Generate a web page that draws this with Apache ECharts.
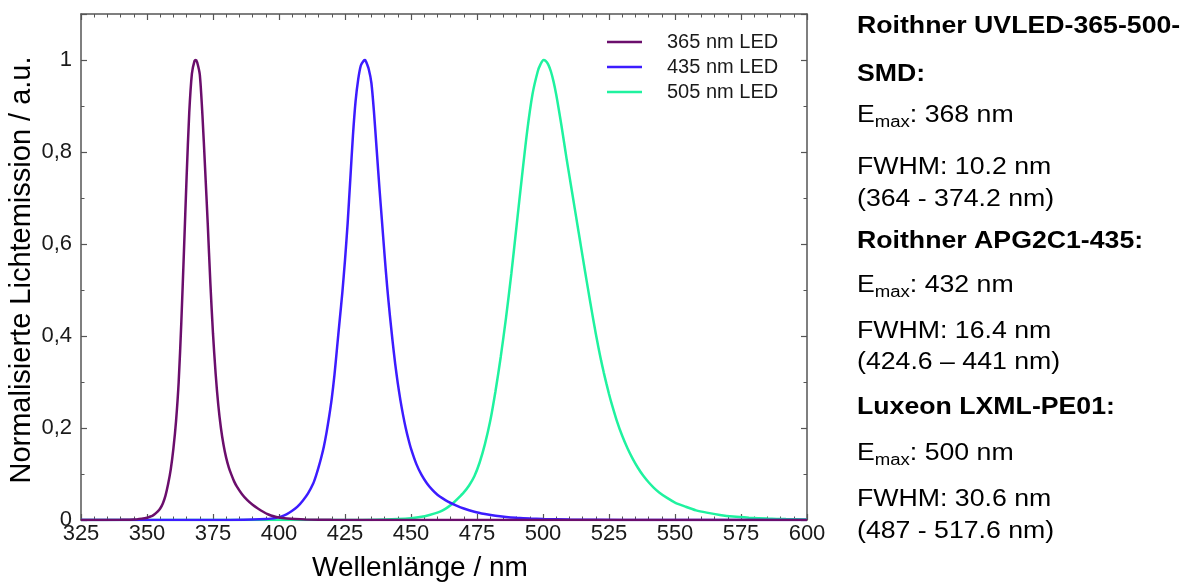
<!DOCTYPE html>
<html>
<head>
<meta charset="utf-8">
<script src="https://cdn.jsdelivr.net/npm/echarts@6/dist/echarts.min.js"></script>
<style>
html,body{margin:0;padding:0;background:#fff;}
#chart{width:1187px;height:585px;}
</style>
</head>
<body>
<div id="chart"></div>
<script>
// ---- Data ----
const seriesNames = ['365 nm LED', '435 nm LED', '505 nm LED'];

const wl365 = [325, 340, 345, 348, 350, 351, 352, 353, 354, 355, 356, 357, 358, 359, 360, 361, 362, 363, 364, 365, 366, 367, 368, 368.5, 369, 370, 371, 372, 373, 374, 375, 376, 377, 378, 379, 380, 381, 382, 383, 384, 386, 388, 390, 392, 394, 396, 398, 400, 403, 406, 410, 420, 440, 600];
const em365 = [0, 0.0005, 0.001, 0.003, 0.005, 0.007, 0.009, 0.013, 0.018, 0.025, 0.036, 0.053, 0.078, 0.11, 0.155, 0.215, 0.30, 0.43, 0.585, 0.745, 0.885, 0.97, 0.998, 1.0, 0.995, 0.968, 0.88, 0.765, 0.645, 0.515, 0.405, 0.318, 0.25, 0.2, 0.163, 0.135, 0.114, 0.098, 0.084, 0.073, 0.056, 0.043, 0.033, 0.025, 0.018, 0.012, 0.008, 0.0055, 0.0035, 0.0022, 0.0012, 0.0004, 0, 0];

const wl435 = [325, 380, 390, 395, 397, 399, 401, 403, 405, 407, 409, 411, 413, 414, 415, 416, 417, 418, 419, 420, 421, 422, 423, 424, 425, 426, 427, 428, 429, 430, 431, 432, 432.6, 433, 434, 435, 436, 437, 438, 439, 440, 441, 442, 443, 444, 445, 446, 447, 448, 449, 450, 452, 454, 456, 458, 460, 462, 464, 467, 470, 474, 478, 482, 486, 490, 495, 500, 510, 530, 560, 600];
const em435 = [0, 0, 0.001, 0.002, 0.003, 0.005, 0.008, 0.013, 0.02, 0.029, 0.042, 0.058, 0.08, 0.096, 0.115, 0.136, 0.16, 0.19, 0.225, 0.265, 0.315, 0.375, 0.435, 0.495, 0.565, 0.645, 0.74, 0.835, 0.91, 0.958, 0.988, 0.998, 1.0, 0.996, 0.98, 0.95, 0.885, 0.805, 0.725, 0.65, 0.575, 0.505, 0.445, 0.39, 0.34, 0.297, 0.26, 0.228, 0.2, 0.176, 0.155, 0.122, 0.098, 0.08, 0.066, 0.055, 0.047, 0.04, 0.032, 0.025, 0.018, 0.013, 0.009, 0.0065, 0.0048, 0.0033, 0.0023, 0.001, 0.0002, 0, 0];

const wl505 = [325, 430, 440, 445, 450, 454, 457, 460, 462, 464, 466, 468, 470, 472, 474, 476, 478, 480, 482, 484, 486, 488, 490, 492, 494, 496, 498, 499, 500.2, 501, 502, 503, 504, 505, 506, 507, 508, 509, 510, 511, 512, 513, 514, 515, 516, 517, 518, 519, 520, 521, 522, 523, 524, 525, 526, 528, 530, 532, 534, 536, 538, 540, 542, 544, 547, 550, 554, 558, 562, 567, 572, 578, 585, 592, 600];
const em505 = [0, 0, 0.001, 0.002, 0.004, 0.007, 0.011, 0.016, 0.021, 0.028, 0.037, 0.048, 0.06, 0.075, 0.095, 0.125, 0.165, 0.215, 0.28, 0.355, 0.44, 0.535, 0.64, 0.745, 0.845, 0.925, 0.975, 0.99, 1.0, 0.998, 0.99, 0.975, 0.953, 0.925, 0.892, 0.857, 0.82, 0.783, 0.748, 0.713, 0.678, 0.643, 0.608, 0.573, 0.538, 0.504, 0.47, 0.437, 0.405, 0.375, 0.347, 0.321, 0.297, 0.274, 0.253, 0.215, 0.183, 0.156, 0.133, 0.113, 0.096, 0.082, 0.07, 0.06, 0.048, 0.038, 0.029, 0.021, 0.016, 0.011, 0.0075, 0.005, 0.003, 0.002, 0.0012];

const xTicks = [325, 350, 375, 400, 425, 450, 475, 500, 525, 550, 575, 600];
const yTicks = [0, 0.2, 0.4, 0.6, 0.8, 1];

const xTitle = 'Wellenlänge / nm';
const yTitle = 'Normalisierte Lichtemission / a.u.';

// Info panel lines: [kind, text, sub, rest]
const infoLines = [
  ['bold', 'Roithner UVLED-365-500-'],
  ['bold', 'SMD:'],
  ['emax', 'E', 'max', ': 368 nm'],
  ['plain', 'FWHM: 10.2 nm'],
  ['plain', '(364 - 374.2 nm)'],
  ['bold', 'Roithner APG2C1-435:'],
  ['emax', 'E', 'max', ': 432 nm'],
  ['plain', 'FWHM: 16.4 nm'],
  ['plain', '(424.6 \u2013 441 nm)'],
  ['bold', 'Luxeon LXML-PE01:'],
  ['emax', 'E', 'max', ': 500 nm'],
  ['plain', 'FWHM: 30.6 nm'],
  ['plain', '(487 - 517.6 nm)']
];
const infoY = [27, 75, 116, 168, 200, 242, 286, 332, 363, 408, 454, 500, 532];

// ---- Build ----
const colors = ['#6b0e6c', '#3c1cff', '#1ff29f'];
const wls = [wl365, wl435, wl505];
const ems = [em365, em435, em505];

const FONT = 'Liberation Sans, Arial, sans-serif';
const AXIS_COLOR = '#555555';
const LABEL_COLOR = '#1a1a1a';

const chart = echarts.init(document.getElementById('chart'), null, {renderer: 'canvas'});

const series = seriesNames.map((name, i) => ({
  name: name,
  type: 'line',
  xAxisIndex: 0,
  yAxisIndex: 0,
  data: wls[i].map((w, k) => [w, ems[i][k]]),
  showSymbol: false,
  symbol: 'none',
  smooth: 0.25,
  lineStyle: {color: colors[i], width: 2.5},
  itemStyle: {color: colors[i]},
  z: i === 0 ? 4 : 3 - i,
  animation: false
}));

function fmtY(v) {
  if (v > 1.0001) return '';
  const r = Math.round(v * 10) / 10;
  return String(r).replace('.', ',');
}

const axisCommonX = {
  type: 'value', min: 325, max: 600, interval: 25,
  axisLine: {show: true, onZero: false, lineStyle: {color: AXIS_COLOR, width: 1.5}},
  axisTick: {show: true, inside: true, length: 6, lineStyle: {color: AXIS_COLOR, width: 1.2}},
  minorTick: {show: true, splitNumber: 5, length: 3.5, lineStyle: {color: AXIS_COLOR, width: 1}},
  splitLine: {show: false}
};
const axisCommonY = {
  type: 'value', min: 0, max: 1.1, interval: 0.2,
  axisLine: {show: true, onZero: false, lineStyle: {color: AXIS_COLOR, width: 1.5}},
  axisTick: {show: true, inside: true, length: 6, lineStyle: {color: AXIS_COLOR, width: 1.2}},
  minorTick: {show: true, splitNumber: 2, length: 3.5, lineStyle: {color: AXIS_COLOR, width: 1}},
  splitLine: {show: false}
};

// Measure text widths for the info panel
const mctx = document.createElement('canvas').getContext('2d');
function tw(text, font) { mctx.font = font; return mctx.measureText(text).width; }

const INFO_X = 857;
const INFO_SIZE = 23;
const INFO_SX = 1.16;
const SUB_SIZE = 16;
const graphics = [];
infoLines.forEach((ln, i) => {
  const y = infoY[i];
  if (ln[0] === 'bold' || ln[0] === 'plain') {
    graphics.push({
      type: 'text', x: INFO_X, y: y, scaleX: INFO_SX,
      style: {text: ln[1], fill: '#000',
        font: (ln[0] === 'bold' ? 'bold ' : '') + INFO_SIZE + 'px ' + FONT,
        textAlign: 'left', textVerticalAlign: 'middle'}
    });
  } else {
    const mainFont = INFO_SIZE + 'px ' + FONT;
    const subFont = SUB_SIZE + 'px ' + FONT;
    const wE = tw(ln[1], mainFont) * INFO_SX;
    const wS = tw(ln[2], subFont) * INFO_SX;
    graphics.push({type: 'text', x: INFO_X, y: y, scaleX: INFO_SX,
      style: {text: ln[1], fill: '#000', font: mainFont, textAlign: 'left', textVerticalAlign: 'middle'}});
    graphics.push({type: 'text', x: INFO_X + wE, y: y + 7, scaleX: INFO_SX,
      style: {text: ln[2], fill: '#000', font: subFont, textAlign: 'left', textVerticalAlign: 'middle'}});
    graphics.push({type: 'text', x: INFO_X + wE + wS, y: y, scaleX: INFO_SX,
      style: {text: ln[3], fill: '#000', font: mainFont, textAlign: 'left', textVerticalAlign: 'middle'}});
  }
});
// Axis titles
graphics.push({type: 'text', x: 420, y: 568,
  style: {text: xTitle, fill: '#000', font: '28px ' + FONT, textAlign: 'center', textVerticalAlign: 'middle'}});
graphics.push({type: 'text', x: 22, y: 270, rotation: Math.PI / 2,
  style: {text: yTitle, fill: '#000', font: '29px ' + FONT, textAlign: 'center', textVerticalAlign: 'middle'}});

const option = {
  animation: false,
  backgroundColor: '#ffffff',
  textStyle: {fontFamily: FONT},
  grid: {left: 81, right: 380, top: 14, bottom: 65, containLabel: false, show: false},
  legend: {
    orient: 'vertical', left: 602, top: 27,
    icon: 'rect', itemWidth: 35, itemHeight: 2.5, itemGap: 5,
    data: seriesNames.map((n, i) => ({name: n, itemStyle: {color: colors[i]}})),
    textStyle: {fontSize: 20, color: LABEL_COLOR, fontFamily: FONT, lineHeight: 20, padding: [0, 0, 0, 20]},
    selectedMode: false
  },
  xAxis: [
    Object.assign({}, axisCommonX, {
      position: 'bottom',
      axisLabel: {show: true, fontSize: 22, color: LABEL_COLOR, margin: 3, fontFamily: FONT,
        customValues: xTicks, formatter: v => String(v)}
    }),
    Object.assign({}, axisCommonX, {position: 'top', axisLabel: {show: false}})
  ],
  yAxis: [
    Object.assign({}, axisCommonY, {
      position: 'left',
      axisLabel: {show: true, fontSize: 22, color: LABEL_COLOR, margin: 9, fontFamily: FONT,
        customValues: yTicks, formatter: fmtY}
    }),
    Object.assign({}, axisCommonY, {position: 'right', axisLabel: {show: false}})
  ],
  series: series,
  graphic: graphics
};
chart.setOption(option);
</script>
</body>
</html>
